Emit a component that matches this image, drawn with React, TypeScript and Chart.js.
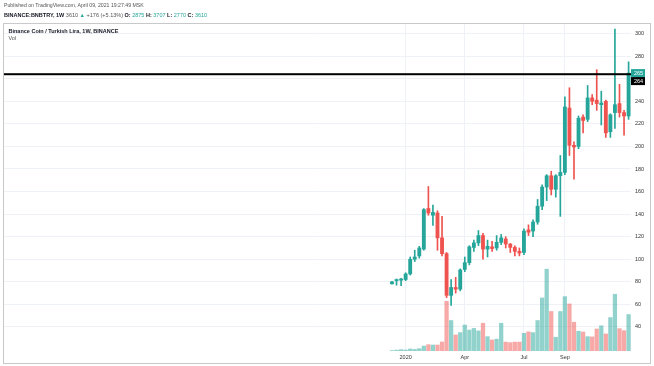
import React, { useEffect, useRef } from "react";
import { Chart, registerables } from "chart.js";

Chart.register(...registerables);

// Weekly candles, BINANCE:BNBTRY 1W (index 0 = week of 9 Dec 2019)
const opens = [78.3, 81, 81.5, 82, 87, 100, 103, 109, 145, 139, 141, 119, 105, 68, 75, 73.5, 91, 97, 110.5, 114.5, 121, 109, 111, 110, 115, 118, 113.5, 110.5, 107, 106, 126, 125, 133, 147, 164, 174, 162, 174, 177, 234, 201, 200, 226, 224, 243, 241, 237, 240, 213, 230, 238, 230, 227];
const highs = [80.5, 82.5, 83, 88, 102, 108, 111.5, 145, 164.5, 148, 143, 138, 106, 82, 84, 91.5, 102, 112, 117, 125.5, 123, 117, 116, 121, 122, 120, 114, 112, 110, 127, 130.5, 135, 153, 166, 175, 178, 175, 192, 244, 252, 204, 227, 228, 254, 246, 268, 249, 241, 229, 304, 255, 232, 275];
const lows = [78, 77, 76.5, 81, 86, 98, 101, 108, 139, 130, 108, 103, 66, 59, 70, 72, 89, 95, 107, 112, 100, 102, 107, 108, 113, 110, 106, 103, 103, 104, 121, 120, 131, 144, 152, 157, 155, 138, 175, 192, 171, 198, 212, 222, 237, 232, 219, 208, 208, 216, 226, 210, 224];
const closes = [80, 82, 82.5, 87, 100, 102, 110, 144, 141, 141.5, 119, 105, 68, 75, 73.5, 90.5, 97, 111, 114.5, 121, 109, 111.5, 109.5, 115, 119, 113.5, 110.5, 107, 105.5, 125, 124, 133, 147, 164, 174, 162, 174, 177, 235, 201, 199.5, 225, 223, 243, 240, 238, 238.5, 212, 228, 237, 230, 227, 265];
const volumes = [0.4, 0.8, 1.2, 0.9, 1.8, 1.4, 2.1, 4.4, 5.6, 5.3, 5.3, 8.0, 44, 27, 14.2, 16.3, 23, 18.6, 20, 17.8, 24.6, 12.7, 9.8, 10.5, 24.6, 7.9, 7.4, 7.9, 7.9, 15.7, 17, 16.3, 27, 47, 72.5, 35, 12.2, 35, 48.2, 41.7, 25.5, 17.5, 16.8, 12.7, 12.5, 19.5, 22.3, 15.1, 29.6, 50.3, 19.8, 18, 32.3];

const timeTickIndex = [3, 16, 29, 38];
const timeTickLabels = ["2020", "Apr", "Jul", "Sep"];
const priceTicks = [40, 60, 80, 100, 120, 140, 160, 180, 200, 220, 240, 260, 280, 300];
const levelLine = 264;
const lastPrice = 265;

const UP = "#26a69a";
const DOWN = "#ef5350";
const UP_VOL = "rgba(38,166,154,0.5)";
const DOWN_VOL = "rgba(239,83,80,0.5)";
const FONT = "'Liberation Sans', Arial, sans-serif";

const X_MIN = -85.27;
const X_MAX = 52.53;
const Y_MIN = 18.7;
const Y_MAX = 308.5;

const overlayPlugin = {
  id: "overlay",
  afterDatasetsDraw(chart: any) {
    const { ctx, chartArea } = chart;
    const y = chart.scales.y.getPixelForValue(levelLine);
    ctx.save();
    ctx.fillStyle = "#000000";
    ctx.fillRect(chartArea.left, y - 1, chartArea.right - chartArea.left, 2);
    ctx.restore();
  },
  afterDraw(chart: any) {
    const { ctx, chartArea } = chart;
    const yScale = chart.scales.y;
    const yLast = yScale.getPixelForValue(lastPrice);
    const x0 = chartArea.right;
    const w = 14;
    const h = 8;
    ctx.save();
    ctx.fillStyle = UP;
    ctx.fillRect(x0, yLast - h / 2, w, h);
    ctx.fillStyle = "#000000";
    ctx.fillRect(x0, yLast + h / 2, w, h);
    ctx.fillStyle = "#ffffff";
    ctx.font = `5.5px ${FONT}`;
    ctx.textBaseline = "middle";
    ctx.textAlign = "left";
    ctx.fillText(String(lastPrice), x0 + 3, yLast + 0.5);
    ctx.fillText(String(levelLine), x0 + 3, yLast + h + 0.5);
    // frame
    ctx.strokeStyle = "#c9c9c9";
    ctx.lineWidth = 1;
    ctx.strokeRect(3.5, 23.5, 647, 340);
    ctx.restore();
  },
};

export default function App() {
  const ref = useRef<HTMLCanvasElement>(null);
  useEffect(() => {
    document.body.style.margin = "0";
    const canvas = ref.current!;
    const idx = opens.map((_, i) => i);
    const up = idx.map((i) => closes[i] >= opens[i]);
    const candleColor = up.map((u) => (u ? UP : DOWN));
    const volColor = up.map((u) => (u ? UP_VOL : DOWN_VOL));
    const chart = new Chart(canvas, {
      type: "bar",
      data: {
        datasets: [
          {
            label: "Vol",
            data: idx.map((i) => ({ x: i, y: volumes[i] })),
            yAxisID: "yv",
            backgroundColor: volColor,
            barThickness: 3.6,
            grouped: false,
            order: 3,
          } as any,
          {
            label: "Wick",
            data: idx.map((i) => ({ x: i, y: [lows[i], highs[i]] })),
            yAxisID: "y",
            backgroundColor: candleColor,
            barThickness: 1,
            grouped: false,
            order: 2,
          } as any,
          {
            label: "Body",
            data: idx.map((i) => ({ x: i, y: [Math.min(opens[i], closes[i]), Math.max(opens[i], closes[i])] })),
            yAxisID: "y",
            backgroundColor: candleColor,
            barThickness: 3.2,
            minBarLength: 1,
            grouped: false,
            order: 1,
          } as any,
        ],
      },
      options: {
        animation: false,
        responsive: false,
        maintainAspectRatio: false,
        layout: { padding: { left: 4, right: 4, top: 24, bottom: 3 } },
        plugins: { legend: { display: false }, tooltip: { enabled: false } },
        scales: {
          x: {
            type: "linear",
            min: X_MIN,
            max: X_MAX,
            offset: false,
            position: "bottom",
            afterBuildTicks: (s: any) => {
              s.ticks = timeTickIndex.map((v) => ({ value: v }));
            },
            afterFit: (s: any) => {
              s.height = 12;
            },
            ticks: {
              autoSkip: false,
              maxRotation: 0,
              padding: 3.5,
              color: "#333333",
              font: { size: 5.5, family: FONT },
              callback: (v: any) => {
                const k = timeTickIndex.indexOf(Number(v));
                return k >= 0 ? timeTickLabels[k] : "";
              },
            },
            grid: { color: "#eef1f6", drawTicks: false, offset: false },
            border: { display: false },
          } as any,
          y: {
            type: "linear",
            position: "right",
            min: Y_MIN,
            max: Y_MAX,
            afterBuildTicks: (s: any) => {
              s.ticks = priceTicks.map((v) => ({ value: v }));
            },
            afterFit: (s: any) => {
              s.width = 19;
            },
            ticks: {
              padding: 4,
              color: "#333333",
              font: { size: 5.5, family: FONT },
            },
            grid: { color: "#eef1f6", drawTicks: false },
            border: { display: false },
          } as any,
          yv: {
            type: "linear",
            display: false,
            min: 0,
            max: Y_MAX - Y_MIN,
          } as any,
        },
      },
      plugins: [overlayPlugin],
    });
    return () => chart.destroy();
  }, []);

  const base: React.CSSProperties = {
    position: "absolute",
    left: 4,
    whiteSpace: "nowrap",
    fontFamily: FONT,
    lineHeight: "8px",
    margin: 0,
  };
  const teal = { color: UP };

  return (
    <div style={{ position: "fixed", left: 0, top: 0, width: 654, height: 366, background: "#ffffff" }}>
      <canvas ref={ref} width={654} height={366} style={{ position: "absolute", left: 0, top: 0, width: 654, height: 366 }} />
      <div style={{ ...base, top: 1, fontSize: 5.2, color: "#555555" }}>
        Published on TradingView.com, April 09, 2021 19:27:49 MSK
      </div>
      <div style={{ ...base, top: 10.7, fontSize: 5.5, color: "#131722" }}>
        <b>BINANCE:BNBTRY, 1W</b> <span style={{ color: "#555555" }}>3610</span> <span style={teal}>▲</span>{" "}
        <span style={{ color: "#555555" }}>+176 (+5.13%)</span> <b>O:</b> <span style={teal}>2875</span> <b>H:</b>{" "}
        <span style={teal}>3707</span> <b>L:</b> <span style={teal}>2770</span> <b>C:</b> <span style={teal}>3610</span>
      </div>
      <div style={{ ...base, left: 8.5, top: 26.7, fontSize: 5.5, fontWeight: "bold", color: "#131722" }}>
        Binance Coin / Turkish Lira, 1W, BINANCE
      </div>
      <div style={{ ...base, left: 8.5, top: 34.3, fontSize: 5.5, color: "#555555" }}>Vol</div>
    </div>
  );
}
